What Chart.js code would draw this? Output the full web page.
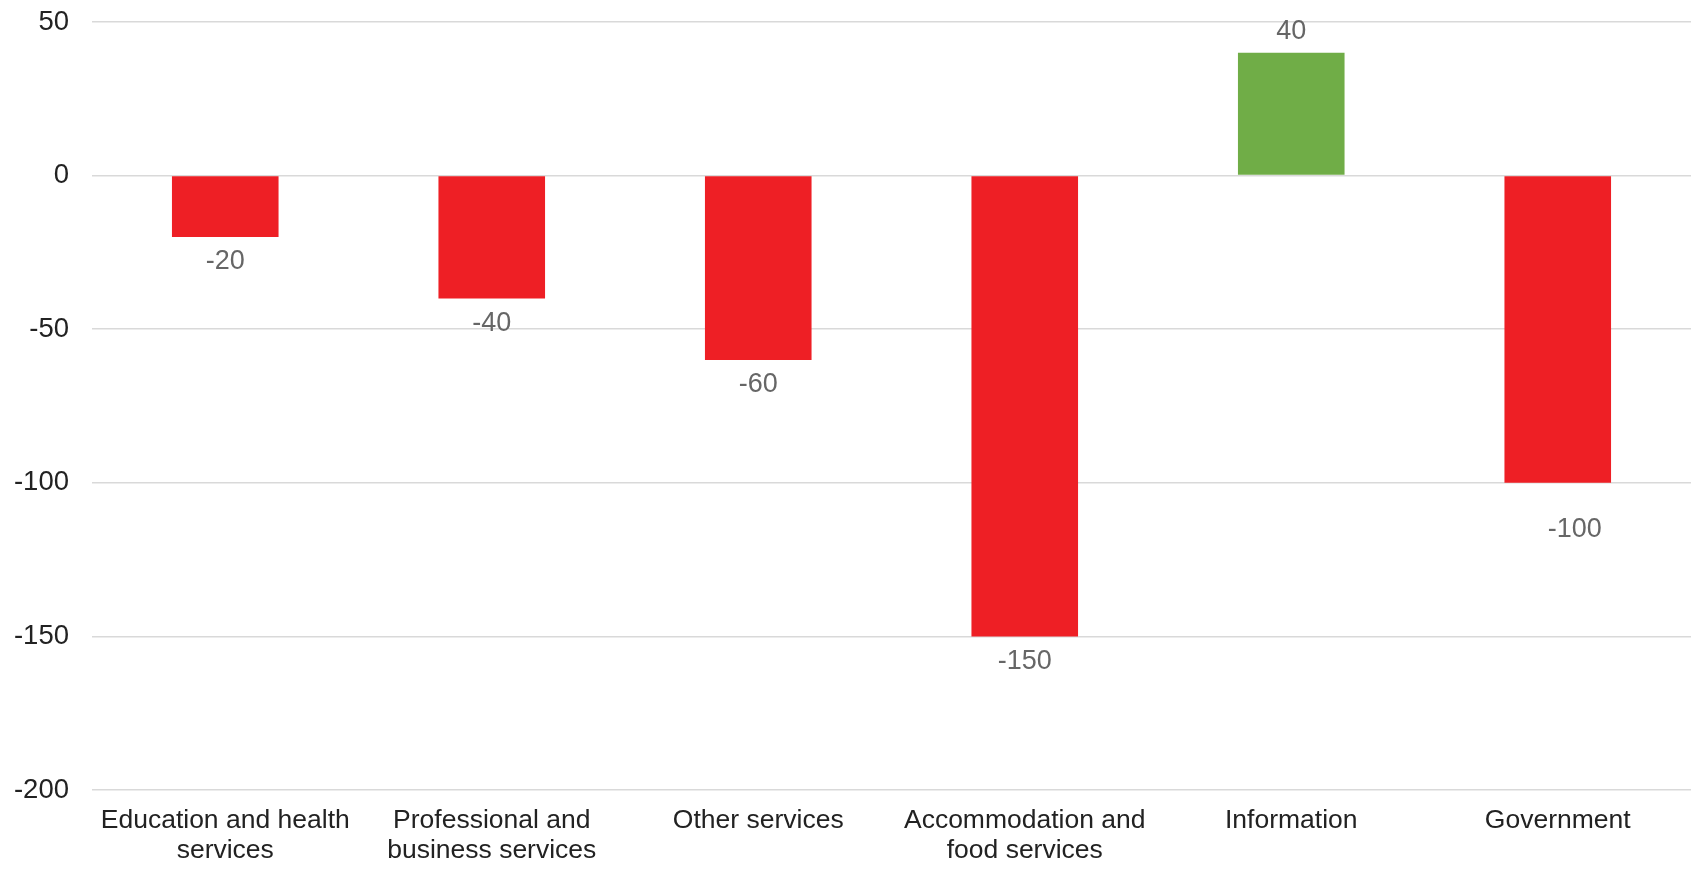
<!DOCTYPE html>
<html>
<head>
<meta charset="utf-8">
<script src="https://cdn.jsdelivr.net/npm/chart.js@4"></script>
<style>
  html, body { margin: 0; padding: 0; background: #fff; }
  #wrap { width: 1700px; height: 874px; }
</style>
</head>
<body>
<div id="wrap"><canvas id="myChart"></canvas></div>
<script>
const categories = [
  ['Education and health', 'services'],
  ['Professional and', 'business services'],
  'Other services',
  ['Accommodation and', 'food services'],
  'Information',
  'Government'
];
const changes = [-20, -40, -60, -150, 40, -100];
const yTicks = [-200, -150, -100, -50, 0, 50];

const RED = '#ee1f25';
const GREEN = '#70ad47';
const FONT = '"Liberation Sans", Arial, sans-serif';

// draws the value above / below each bar
const valueLabels = {
  id: 'valueLabels',
  afterDatasetsDraw(chart) {
    const ctx = chart.ctx;
    const meta = chart.getDatasetMeta(0);
    ctx.save();
    ctx.font = '27px ' + FONT;
    ctx.fillStyle = '#666666';
    ctx.textAlign = 'center';
    ctx.textBaseline = 'middle';
    meta.data.forEach((bar, i) => {
      const v = changes[i];
      let x = bar.x;
      let y = v < 0 ? bar.y + 25 : bar.y - 21;
      // the last label sits a little off in the original
      if (i === changes.length - 1) { x += 17; y += 22; }
      ctx.fillText(String(v), x, y);
    });
    ctx.restore();
  }
};

const ctx = document.getElementById('myChart').getContext('2d');
const myChart = new Chart(ctx, {
  type: 'bar',
  data: {
    labels: categories,
    datasets: [{
      data: changes,
      backgroundColor: changes.map(v => v < 0 ? RED : GREEN),
      borderWidth: 0,
      barPercentage: 0.8,
      categoryPercentage: 0.5
    }]
  },
  options: {
    responsive: true,
    maintainAspectRatio: false,
    animation: false,
    layout: { padding: { top: 22, right: 9, left: 0, bottom: 0 } },
    plugins: {
      legend: { display: false },
      tooltip: { enabled: false }
    },
    scales: {
      x: {
        grid: { display: false, drawTicks: false },
        border: { display: false },
        ticks: {
          color: '#222222',
          padding: 16,
          maxRotation: 0,
          autoSkip: false,
          font: { family: FONT, size: 26.5, lineHeight: 1.13 }
        },
        afterFit(scale) { scale.height = 84; }
      },
      y: {
        min: -200,
        max: 50,
        afterBuildTicks(scale) {
          scale.ticks = yTicks.map(v => ({ value: v }));
        },
        grid: { color: '#d9d9d9', lineWidth: 1.5, drawTicks: false },
        border: { display: false },
        ticks: {
          color: '#222222',
          padding: 23,
          font: { family: FONT, size: 27.5 }
        },
        afterFit(scale) {
          scale.width = 92;
          scale.paddingTop = 0;
          scale.paddingBottom = 0;
        }
      }
    }
  },
  plugins: [valueLabels]
});
</script>
</body>
</html>
